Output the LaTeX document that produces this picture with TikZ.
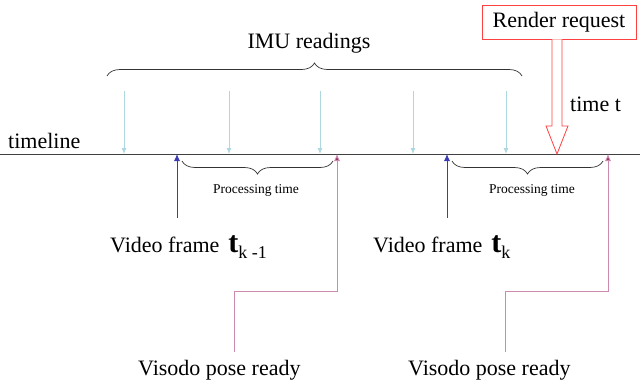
\documentclass[tikz,border=0pt]{standalone}
\usepackage{fontspec}
\setmainfont{Liberation Serif}
\newfontfamily\diagfont{Liberation Serif}
\usepackage{tikz}
\usetikzlibrary{arrows.meta,positioning,calc,decorations.pathreplacing}
\usepackage{xcolor}
\definecolor{TimeLine}{HTML}{404040}
\definecolor{ImuCyan}{HTML}{ADD8E0}
\definecolor{FrameBlue}{HTML}{3C3CB4}
\definecolor{PosePink}{HTML}{CC8AAE}
\definecolor{PoseDark}{HTML}{993366}
\definecolor{RenderRed}{HTML}{FF4040}
\tikzset{
  biglabel/.style={font=\diagfont\fontsize{22}{26}\selectfont,inner sep=0pt},
  smalllabel/.style={font=\diagfont\fontsize{13.5}{16}\selectfont,inner sep=0pt},
  renderbox/.style={draw=RenderRed,fill=white,line width=0.8pt,minimum width=154,minimum height=34,inner sep=0pt,font=\diagfont\fontsize{22}{26}\selectfont},
  imuarrow/.style={-{Latex[length=6pt,width=5pt]},line width=0.9pt,draw=ImuCyan},
  framearrow/.style={-{Latex[length=7pt,width=6pt]},line width=0.9pt,draw=FrameBlue},
  posearrow/.style={-{Latex[length=7pt,width=6pt,fill=PoseDark]},line width=0.9pt,draw=PosePink},
  renderarrow/.style={draw=RenderRed,fill=white,line width=0.8pt,line join=miter},
  bigbrace/.style={decorate,decoration={brace,amplitude=13pt},line width=0.7pt,draw=black!80},
  procbrace/.style={decorate,decoration={brace,mirror,amplitude=13pt},line width=0.7pt,draw=black!80}
}
\newcommand{\framet}[1]{\hspace{9pt}{\fontsize{30}{30}\selectfont\bfseries t}\raisebox{-6pt}{\fontsize{18}{20}\selectfont #1}}
\begin{document}
\begin{tikzpicture}[x=1pt,y=-1pt]
\useasboundingbox (0,0) rectangle (640,386);
\coordinate (tl0) at (0,154); \coordinate (tl1) at (640,154);
\draw[TimeLine,line width=1pt] (tl0) -- (tl1);
\node[biglabel,anchor=base west] (tlname) at (8,148) {timeline};
\foreach \x [count=\i] in {124,229,320,413,506}{
  \coordinate (imutop\i) at (\x,91); \coordinate (imu\i) at (\x,154);
  \draw[imuarrow] (imutop\i) -- (imu\i);}
\coordinate (bb0) at (107,76); \coordinate (bb1) at (522,76);
\draw[bigbrace] (bb0) -- (bb1);
\node[biglabel,anchor=base] (imuname) at (309,48) {IMU readings};
\node[biglabel,anchor=base west] (vf1) at (110,252) {Video frame\framet{k -1}};
\node[biglabel,anchor=base west] (vf2) at (373,252) {Video frame\framet{k}};
\foreach \x [count=\i] in {177,447}{
  \coordinate (vfbot\i) at (\x,218); \coordinate (vftip\i) at (\x,154);
  \draw[framearrow] (vfbot\i) -- (vftip\i);}
\node[biglabel,anchor=base west] (pose1) at (138,375) {Visodo pose ready};
\node[biglabel,anchor=base west] (pose2) at (408,375) {Visodo pose ready};
\foreach \a/\b [count=\i] in {234/337,505/608}{
  \coordinate (posebot\i) at (\a,352); \coordinate (posetip\i) at (\b,154);
  \draw[posearrow] (posebot\i) |- ($(posetip\i)+(0,137)$) -- (posetip\i);}
\foreach \a/\b/\c [count=\i] in {182/333/256,452/603/532}{
  \coordinate (pb0\i) at (\a,161); \coordinate (pb1\i) at (\b,161);
  \draw[procbrace] (pb0\i) -- (pb1\i);
  \node[smalllabel] (proc\i) at (\c,190) {Processing time};}
\node[renderbox] (render) at (559,22) {Render request};
\coordinate (tnow) at (557,154);
\draw[renderarrow] ($(render.south -| tnow)+(-5,0)$) -- ($(tnow)+(-5,-28)$) -- ($(tnow)+(-11,-28)$) -- (tnow) -- ($(tnow)+(11,-28)$) -- ($(tnow)+(5,-28)$) -- ($(render.south -| tnow)+(5,0)$);
\node[biglabel,anchor=base west] (timet) at (570,111) {time t};
\end{tikzpicture}
\end{document}
